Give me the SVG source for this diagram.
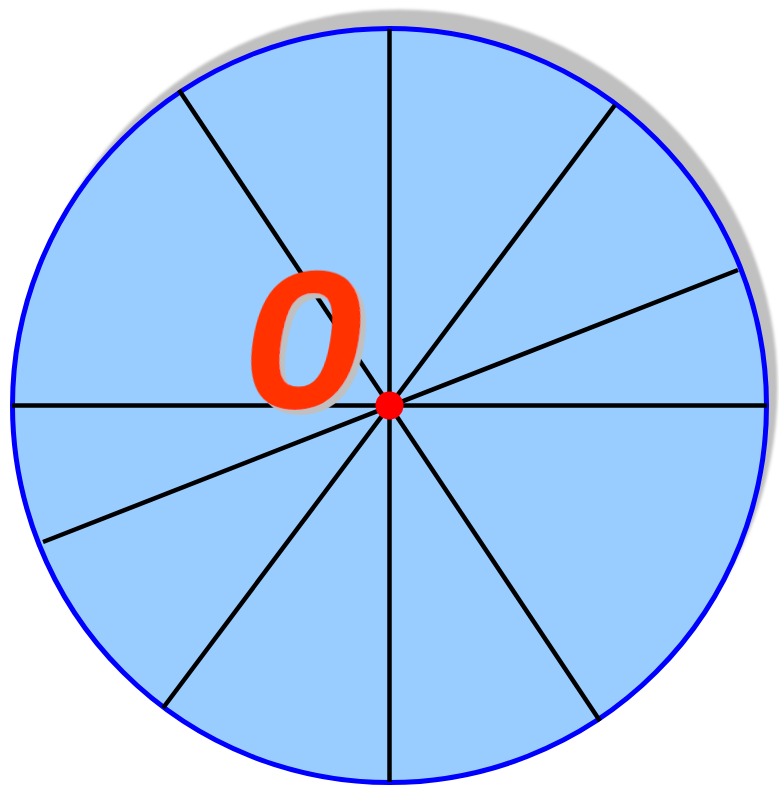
<svg xmlns="http://www.w3.org/2000/svg" width="779" height="786" viewBox="0 0 779 786">
  <defs>
    <filter id="blur" x="-10%" y="-10%" width="120%" height="120%">
      <feGaussianBlur stdDeviation="1.5"/>
    </filter>
    <filter id="textshadow" x="-20%" y="-20%" width="150%" height="150%">
      <feFlood flood-color="#c0c0c0" result="g"/>
      <feComposite in="g" in2="SourceAlpha" operator="in" result="s"/>
      <feOffset in="s" dx="6" dy="5" result="so"/>
      <feMerge>
        <feMergeNode in="so"/>
        <feMergeNode in="SourceGraphic"/>
      </feMerge>
    </filter>
    <style>
      .spoke { stroke: #000000; stroke-width: 4.5; fill: none; }
      .digit { font-family: "Liberation Sans", Arial, sans-serif; font-weight: normal; font-size: 184px; text-anchor: middle; stroke-width: 10; stroke-linejoin: round; }
    </style>
  </defs>
  <rect width="779" height="786" fill="#ffffff"/>
  <g id="wheel">
    <circle cx="399.5" cy="387.5" r="378" fill="#c0c0c0" filter="url(#blur)"/>
    <circle cx="389.5" cy="405.5" r="377" fill="#99ccff" stroke="#0000ff" stroke-width="5"/>
  </g>
  <g id="connectors">
    <line class="spoke" x1="389.5" y1="29" x2="389.5" y2="782"/>
    <line class="spoke" x1="12" y1="405.5" x2="767" y2="405.5"/>
    <line class="spoke" x1="179" y1="90" x2="600" y2="721"/>
    <line class="spoke" x1="615" y1="105" x2="163" y2="708"/>
    <line class="spoke" x1="738" y1="270" x2="43" y2="542"/>
  </g>
  <g id="label">
    <text class="digit" x="0" y="0" fill="#ff3300" stroke="#ff3300" filter="url(#textshadow)" transform="translate(296,403) skewX(-9) scale(1.08,1)">0</text>
  </g>
  <g id="hub">
    <circle cx="389.5" cy="405.5" r="14" fill="#ff0000"/>
  </g>
</svg>
